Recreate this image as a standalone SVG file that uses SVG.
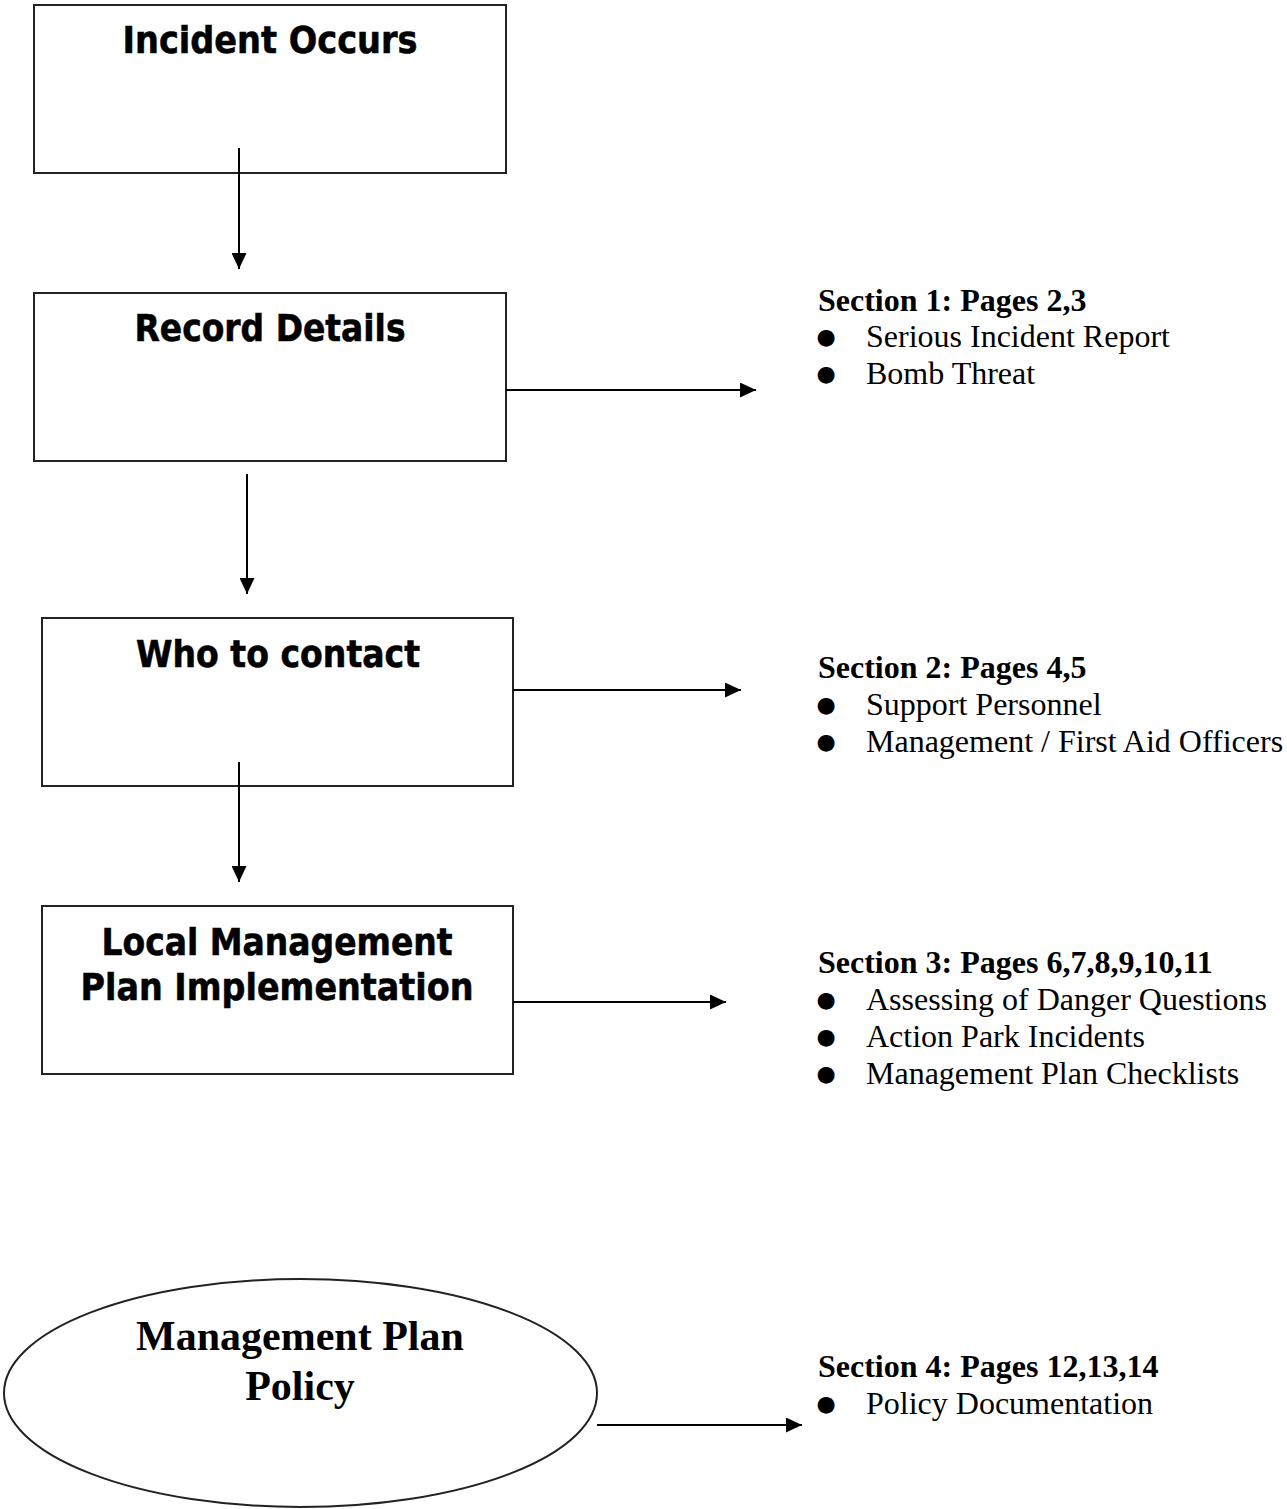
<svg xmlns="http://www.w3.org/2000/svg" width="1287" height="1509" viewBox="0 0 1287 1509">
<style>
.box{fill:#fff;stroke:#222;stroke-width:2}
.bt{font-family:"DejaVu Sans",Verdana,sans-serif;font-weight:bold;font-size:38px;fill:#000;text-anchor:middle;stroke:#000;stroke-width:0.6}
.et{font-family:"Liberation Serif","Times New Roman",serif;font-weight:bold;font-size:42px;fill:#000;text-anchor:middle}
.sh{font-family:"Liberation Serif","Times New Roman",serif;font-weight:bold;font-size:32px;fill:#000}
.si{font-family:"Liberation Serif","Times New Roman",serif;font-size:32px;fill:#000}
.bu{font-family:"DejaVu Sans",sans-serif;font-size:22px;fill:#000;text-anchor:middle}
.con{stroke:#000;stroke-width:2;fill:none;marker-end:url(#ah)}
</style>
<defs>
<marker id="ah" markerUnits="userSpaceOnUse" markerWidth="16" markerHeight="15" refX="16" refY="7.5" orient="auto">
<path d="M0,0 L16,7.5 L0,15 z" fill="#000"/>
</marker>
</defs>
<rect width="1287" height="1509" fill="#fff"/>
<g id="node-incident">
<rect class="box" x="34" y="5" width="472" height="168"/>
<text class="bt" x="270" y="53" textLength="295" lengthAdjust="spacingAndGlyphs">Incident Occurs</text>
</g>
<g id="node-record">
<rect class="box" x="34" y="293" width="472" height="168"/>
<text class="bt" x="270" y="341" textLength="271" lengthAdjust="spacingAndGlyphs">Record Details</text>
</g>
<g id="node-contact">
<rect class="box" x="42" y="618" width="471" height="168"/>
<text class="bt" x="278" y="667" textLength="284" lengthAdjust="spacingAndGlyphs">Who to contact</text>
</g>
<g id="node-local">
<rect class="box" x="42" y="906" width="471" height="168"/>
<text class="bt" x="277" y="955" textLength="351" lengthAdjust="spacingAndGlyphs">Local Management</text>
<text class="bt" x="277" y="1000" textLength="393" lengthAdjust="spacingAndGlyphs">Plan Implementation</text>
</g>
<g id="node-policy">
<ellipse class="box" cx="300.5" cy="1393" rx="296.5" ry="114"/>
<text class="et" x="300" y="1350">Management Plan</text>
<text class="et" x="300" y="1400">Policy</text>
</g>
<g id="section-1">
<text class="sh" x="818" y="311">Section 1: Pages 2,3</text>
<text class="bu" x="826" y="344">●</text>
<text class="si" x="866" y="347">Serious Incident Report</text>
<text class="bu" x="826" y="381">●</text>
<text class="si" x="866" y="384">Bomb Threat</text>
</g>
<g id="section-2">
<text class="sh" x="818" y="678">Section 2: Pages 4,5</text>
<text class="bu" x="826" y="712">●</text>
<text class="si" x="866" y="715">Support Personnel</text>
<text class="bu" x="826" y="749">●</text>
<text class="si" x="866" y="752">Management / First Aid Officers</text>
</g>
<g id="section-3">
<text class="sh" x="818" y="973">Section 3: Pages 6,7,8,9,10,11</text>
<text class="bu" x="826" y="1007">●</text>
<text class="si" x="866" y="1010">Assessing of Danger Questions</text>
<text class="bu" x="826" y="1044">●</text>
<text class="si" x="866" y="1047">Action Park Incidents</text>
<text class="bu" x="826" y="1081">●</text>
<text class="si" x="866" y="1084">Management Plan Checklists</text>
</g>
<g id="section-4">
<text class="sh" x="818" y="1377">Section 4: Pages 12,13,14</text>
<text class="bu" x="826" y="1411">●</text>
<text class="si" x="866" y="1414">Policy Documentation</text>
</g>
<g id="connectors">
<line class="con" x1="239" y1="148" x2="239" y2="269"/>
<line class="con" x1="247" y1="474" x2="247" y2="594"/>
<line class="con" x1="239" y1="762" x2="239" y2="882"/>
<line class="con" x1="506" y1="390" x2="756" y2="390"/>
<line class="con" x1="513" y1="690" x2="741" y2="690"/>
<line class="con" x1="513" y1="1002" x2="726" y2="1002"/>
<line class="con" x1="597" y1="1425" x2="802" y2="1425"/>
</g>
</svg>
